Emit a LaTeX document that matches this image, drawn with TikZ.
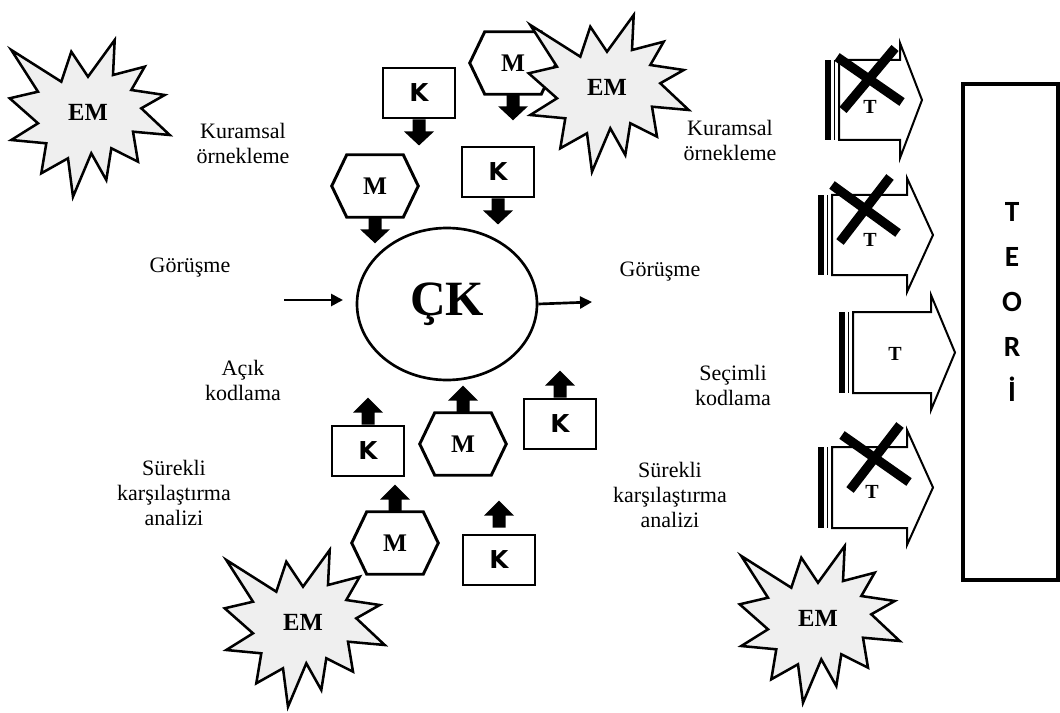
\documentclass[tikz,border=0pt]{standalone}
\usepackage{fontspec}
\setmainfont{Liberation Serif}
\newfontfamily\kfont{DejaVu Sans}
\newfontfamily\teorifont{Carlito}
\usetikzlibrary{calc,arrows.meta,shapes.geometric}
\definecolor{starfill}{HTML}{EFEFEF}

% hexagon with the letter M; #1 name, #2 centre
\newcommand{\hexmark}[2]{%
  \node[hexlabel] (#1) at (#2) {M};
  \draw[hexline] (#1.west) -- ($(#1.north west)+(15,0)$) -- ($(#1.north east)+(-15,0)$)
    -- (#1.east) -- ($(#1.south east)+(-15,0)$) -- ($(#1.south west)+(15,0)$) -- cycle;}

% starburst with EM; #1 name, #2 centre
\newcommand{\emstar}[2]{%
  \begin{scope}[shift={(#2)}]
    \draw[starline] (-76.7,-62) -- (-26.7,-30.3) -- (-16.7,-60.3) -- (0,-35.3) -- (26.7,-72)
      -- (25,-37) -- (56.7,-45.3) -- (43.3,-22) -- (76.7,-17) -- (53.3,-3.7) -- (81.7,23)
      -- (45,19.7) -- (50,49.7) -- (23.3,36.3) -- (18.3,68) -- (3.3,41.3) -- (-15,84.7)
      -- (-20,46.3) -- (-46.7,61.3) -- (-41.7,31.3) -- (-76.7,28) -- (-50,11.3)
      -- (-78.3,-13.7) -- (-50,-20.3) -- cycle;
  \end{scope}
  \node[emlabel] (#1) at (#2) {EM};}

% striped block arrow; #1 left, #2 top, #3 bottom, #4 head back, #5 head top, #6 head bottom, #7 tip
\newcommand{\theoryarrow}[7]{%
  \fill (#1-14,#2) rectangle (#1-8,#3);
  \draw[line width=1.4pt] (#1-4.5,#2) -- (#1-4.5,#3);
  \draw[tarrow] (#1,#2) -- (#4,#2) -- (#4,#5) -- (#7,{(#2+#3)/2}) -- (#4,#6)
    -- (#4,#3) -- (#1,#3) -- cycle;}

\tikzset{
  pics/downblk/.style={code={\fill (-6.5,0) -- (6.5,0) -- (6.5,12) -- (15,12) -- (0,26)
      -- (-15,12) -- (-6.5,12) -- cycle;}},
  pics/upblk/.style={code={\fill (-6.5,0) -- (6.5,0) -- (6.5,-12) -- (15,-12) -- (0,-27)
      -- (-15,-12) -- (-6.5,-12) -- cycle;}}
}

\begin{document}
\begin{tikzpicture}[x=0.75pt,y=-0.75pt,
  lbl/.style={align=center, inner sep=0pt, font=\fontsize{16.5}{18.75}\selectfont},
  kbox/.style={draw, line width=2.2pt, minimum width=54pt, minimum height=37.5pt,
    inner sep=0pt, font=\kfont\bfseries\fontsize{18.5}{18.5}\selectfont},
  hexlabel/.style={minimum width=64.5pt, minimum height=46.5pt, inner sep=0pt,
    font=\bfseries\fontsize{19}{19}\selectfont},
  hexline/.style={line width=2.2pt, line join=miter},
  starline/.style={draw=black, fill=starfill, line width=1.9pt},
  emlabel/.style={font=\bfseries\fontsize{18.5}{18.5}\selectfont, inner sep=0pt},
  flow/.style={line width=2pt, -{Triangle[length=9pt,width=9pt]}},
  tarrow/.style={draw, line width=1.5pt, fill=white, line join=miter},
  tlabel/.style={font=\bfseries\fontsize{15}{15}\selectfont, inner sep=0pt},
  cross/.style={line width=7pt}]

\useasboundingbox[fill=white] (0,0) rectangle (1060,713);

% central category
\node[draw, ellipse, line width=2pt, minimum width=135pt, minimum height=114pt,
  font=\bfseries\fontsize{37}{37}\selectfont] (ck) at (447,304) {ÇK};
\coordinate (inL) at (284,300);
\coordinate (inR) at (343,300);
\coordinate (outR) at (592,302);
\draw[flow] (inL) -- (inR);
\draw[flow] (ck.east) -- (outR);

% codes and memos flowing in from above
\node[kbox] (k1) at (419,93) {K};
\pic at (k1.south) {downblk};
\node[kbox] (k2) at (498,172) {K};
\pic at (k2.south) {downblk};
\hexmark{m1}{375,186}
\pic at (m1.south) {downblk};
\hexmark{m2}{513,63}
\pic at (m2.south) {downblk};

% codes and memos flowing in from below
\node[kbox] (k3) at (368,451) {K};
\pic at (k3.north) {upblk};
\node[kbox] (k4) at (560,424) {K};
\pic at (k4.north) {upblk};
\node[kbox] (k5) at (499,560) {K};
\pic at ($(k5.north)+(0,-6)$) {upblk};
\hexmark{m3}{463,444}
\pic at (m3.north) {upblk};
\hexmark{m4}{395,543}
\pic at (m4.north) {upblk};

% starbursts
\emstar{em1}{88,112}
\emstar{em2}{607,87}
\emstar{em3}{303,622}
\emstar{em4}{818,618}

% process labels
\node[lbl] (lk) at (243,143) {Kuramsal\\örnekleme};
\node[lbl] (lg) at (190,268) {Görüşme};
\node[lbl] (la) at (243,380) {Açık\\kodlama};
\node[lbl] (ls) at (174,493) {Sürekli\\karşılaştırma\\analizi};
\node[lbl] (rk) at (730,140) {Kuramsal\\örnekleme};
\node[lbl] (rg) at (660,272) {Görüşme};
\node[lbl] (rs) at (733,385) {Seçimli\\kodlama};
\node[lbl] (rsk) at (670,495) {Sürekli\\karşılaştırma\\analizi};

% candidate theories
\theoryarrow{839}{60}{140}{900}{43}{158}{922}
\node[tlabel] (t1) at (870,107) {T};
\draw[cross] (837,57) -- (902,102);
\draw[cross] (895,48) -- (843,110);

\theoryarrow{832}{195}{275}{907}{178}{292}{933}
\node[tlabel] (t2) at (870,240) {T};
\draw[cross] (832,185) -- (898,233);
\draw[cross] (890,177) -- (840,242);

\theoryarrow{853}{312}{393}{931}{295}{410}{955}
\node[tlabel] (t3) at (895,354) {T};

\theoryarrow{832}{447}{528}{907}{430}{545}{933}
\node[tlabel] (t4) at (872,492) {T};
\draw[cross] (842,435) -- (909,482);
\draw[cross] (900,425) -- (850,490);

% theory box
\node[draw, line width=3pt, minimum width=71.25pt, minimum height=372pt] (teori) at (1010.5,332) {};
\node[align=center, inner sep=0pt, font=\teorifont\bfseries\fontsize{22}{33.75}\selectfont]
  (teoriword) at (1012,302) {T\\E\\O\\R\\İ};
\end{tikzpicture}
\end{document}
